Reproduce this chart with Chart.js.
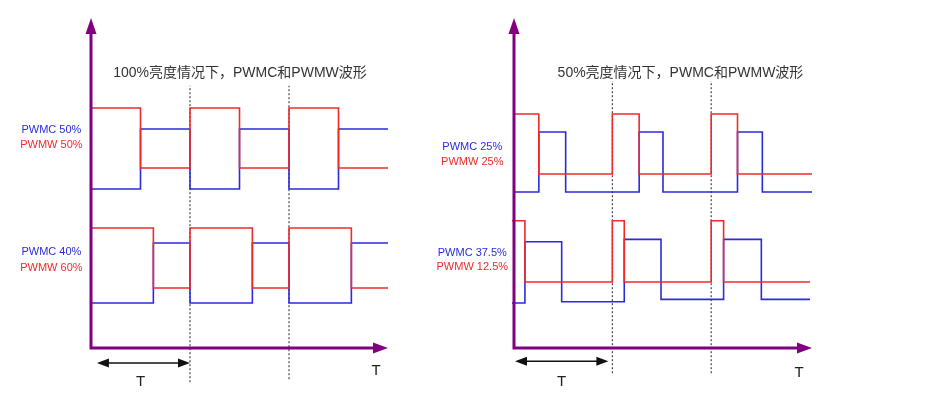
<!DOCTYPE html>
<html>
<head>
    <script src="https://cdn.jsdelivr.net/npm/chart.js@4.4.1/dist/chart.umd.min.js"></script>
    <style>
        body {
            margin: 0;
            background: #ffffff;
        }
        .wrap {
            position: relative;
            width: 934px;
            height: 417px;
            overflow: hidden;
        }
        canvas {
            position: absolute;
            top: 0;
        }
        #leftChart { left: 0; }
        #rightChart { left: 430px; }
    </style>
</head>
<body>
    <div class="wrap">
        <canvas id="leftChart" width="430" height="417"></canvas>
        <canvas id="rightChart" width="504" height="417"></canvas>
    </div>

    <script>
        // 时间单位: T (周期)；电平单位: 任意
        // 左图: 100%亮度
        const LEFT_TOP_EDGES = [0, 0.5, 1, 1.5, 2, 2.5, 3];
        const LEFT_TOP_PWMW = [4, 3, 4, 3, 4, 3, 3];
        const LEFT_TOP_PWMC = [2.65, 3.65, 2.65, 3.65, 2.65, 3.65, 3.65];
        const LEFT_BOT_EDGES = [0, 0.63, 1, 1.63, 2, 2.63, 3];
        const LEFT_BOT_PWMW = [2, 1, 2, 1, 2, 1, 1];
        const LEFT_BOT_PWMC = [0.75, 1.75, 0.75, 1.75, 0.75, 1.75, 1.75];
        const LEFT_PERIODS = [1, 2];
        const LEFT_LABELS = ['PWMC 50%', 'PWMW 50%', 'PWMC 40%', 'PWMW 60%'];

        // 右图: 50%亮度
        const RIGHT_TOP_PWMW_EDGES = [0, 0.25, 0.99, 1.26, 1.985, 2.25, 3];
        const RIGHT_TOP_PWMW = [3.9, 2.9, 3.9, 2.9, 3.9, 2.9, 2.9];
        const RIGHT_TOP_PWMC_EDGES = [0, 0.25, 0.52, 1.26, 1.5, 2.25, 2.5, 3];
        const RIGHT_TOP_PWMC = [2.6, 3.6, 2.6, 3.6, 2.6, 3.6, 2.6, 2.6];
        const RIGHT_BOT_PWMW_EDGES = [-0.02, 0.11, 0.99, 1.11, 1.985, 2.11, 2.98];
        const RIGHT_BOT_PWMW = [2.12, 1.1, 2.12, 1.1, 2.12, 1.1, 1.1];
        const RIGHT_BOT_PWMC_EDGES = [-0.02, 0.11, 0.48, 1.11, 1.48, 2.11, 2.49, 2.98];
        const RIGHT_BOT_PWMC = [0.75, 1.77, 0.77, 1.81, 0.81, 1.81, 0.81, 0.81];
        const RIGHT_PERIODS = [0.99, 1.985];
        const RIGHT_LABELS = ['PWMC 25%', 'PWMW 25%', 'PWMC 37.5%', 'PWMW 12.5%'];

        const RED = '#ee2b2b';
        const BLUE = '#2b2bdd';
        const PURPLE = '#800080';
        const FONT = '"Liberation Sans", Arial, "Noto Sans CJK SC", sans-serif';

        function pts(xs, ys) {
            return xs.map((x, i) => ({ x: x, y: ys[i] }));
        }

        function wave(xs, ys, color) {
            return {
                data: pts(xs, ys),
                borderColor: color,
                borderWidth: 1.6,
                stepped: 'before',
                pointRadius: 0,
                clip: false
            };
        }

        function periodLine(x, span) {
            return {
                data: [{ x: x, y: span[0] }, { x: x, y: span[1] }],
                borderColor: '#222',
                borderWidth: 1,
                borderDash: [2, 2],
                pointRadius: 0,
                clip: false
            };
        }

        function arrowHead(ctx, tipX, tipY, dx, dy, len, half) {
            // dx, dy: 单位方向
            const bx = tipX - dx * len, by = tipY - dy * len;
            ctx.beginPath();
            ctx.moveTo(tipX, tipY);
            ctx.lineTo(bx - dy * half, by + dx * half);
            ctx.lineTo(bx + dy * half, by - dx * half);
            ctx.closePath();
            ctx.fill();
        }

        // 画坐标轴、箭头、标题、文字
        const decor = {
            id: 'pwmDecor',
            afterDatasetsDraw(chart, args, o) {
                const ctx = chart.ctx;
                const X = v => chart.scales.x.getPixelForValue(v);
                const Y = v => chart.scales.y.getPixelForValue(v);
                const x0 = X(0), y0 = Y(0);
                const xEnd = X(chart.scales.x.max), yTop = Y(chart.scales.y.max);
                ctx.save();

                // 坐标轴
                ctx.strokeStyle = PURPLE;
                ctx.fillStyle = PURPLE;
                ctx.lineWidth = 3;
                ctx.beginPath();
                ctx.moveTo(x0, y0 + 1.5);
                ctx.lineTo(x0, yTop + 12);
                ctx.moveTo(x0 - 1.5, y0);
                ctx.lineTo(xEnd - 12, y0);
                ctx.stroke();
                arrowHead(ctx, x0, yTop, 0, -1, 16, 5.5);
                arrowHead(ctx, xEnd, y0, 1, 0, 15, 5.5);

                // 周期 T 箭头
                const ta = X(o.tArrow[0]), tb = X(o.tArrow[1]), ty = Y(o.tArrow[2]);
                ctx.strokeStyle = '#111';
                ctx.fillStyle = '#111';
                ctx.lineWidth = 1.5;
                ctx.beginPath();
                ctx.moveTo(ta + 8, ty);
                ctx.lineTo(tb - 8, ty);
                ctx.stroke();
                arrowHead(ctx, ta, ty, -1, 0, 12, 4.5);
                arrowHead(ctx, tb, ty, 1, 0, 12, 4.5);

                // 文字
                ctx.textAlign = 'center';
                ctx.textBaseline = 'middle';
                ctx.fillStyle = '#222';
                ctx.font = '15px ' + FONT;
                o.tLabels.forEach(t => ctx.fillText('T', X(t[0]), Y(t[1])));

                ctx.fillStyle = '#333';
                ctx.font = '14px ' + FONT;
                ctx.fillText(o.title, X(o.titlePos[0]), Y(o.titlePos[1]));

                ctx.font = '11px ' + FONT;
                o.labels.forEach((txt, i) => {
                    ctx.fillStyle = i % 2 === 0 ? BLUE : RED;
                    ctx.fillText(txt, X(o.labelX), Y(o.labelY[i]));
                });
                ctx.restore();
            }
        };

        function makePanel(id, datasets, padding, opts) {
            return new Chart(document.getElementById(id), {
                type: 'line',
                data: { datasets: datasets },
                options: {
                    responsive: false,
                    animation: false,
                    devicePixelRatio: 1,
                    layout: { padding: padding },
                    scales: {
                        x: { type: 'linear', min: 0, max: 3, display: false },
                        y: { type: 'linear', min: 0, max: 5.5, display: false }
                    },
                    plugins: {
                        legend: { display: false },
                        tooltip: { enabled: false },
                        pwmDecor: opts
                    }
                },
                plugins: [decor]
            });
        }

        makePanel('leftChart', [
            wave(LEFT_TOP_EDGES, LEFT_TOP_PWMW, RED),
            wave(LEFT_BOT_EDGES, LEFT_BOT_PWMW, RED),
            wave(LEFT_TOP_EDGES, LEFT_TOP_PWMC, BLUE),
            wave(LEFT_BOT_EDGES, LEFT_BOT_PWMC, BLUE),
            periodLine(LEFT_PERIODS[0], [-0.57, 4.37]),
            periodLine(LEFT_PERIODS[1], [-0.52, 4.37])
        ], { left: 91, right: 42, top: 18, bottom: 69 }, {
            title: '100%亮度情况下，PWMC和PWMW波形',
            titlePos: [1.505, 4.58],
            labels: LEFT_LABELS,
            labelX: -0.4,
            labelY: [3.63, 3.38, 1.6, 1.33],
            tArrow: [0.06, 1.0, -0.25],
            tLabels: [[0.5, -0.57], [2.88, -0.38]]
        });

        makePanel('rightChart', [
            wave(RIGHT_TOP_PWMW_EDGES, RIGHT_TOP_PWMW, RED),
            wave(RIGHT_BOT_PWMW_EDGES, RIGHT_BOT_PWMW, RED),
            wave(RIGHT_TOP_PWMC_EDGES, RIGHT_TOP_PWMC, BLUE),
            wave(RIGHT_BOT_PWMC_EDGES, RIGHT_BOT_PWMC, BLUE),
            periodLine(RIGHT_PERIODS[0], [-0.42, 4.45]),
            periodLine(RIGHT_PERIODS[1], [-0.42, 4.45])
        ], { left: 84, right: 122, top: 18, bottom: 69 }, {
            title: '50%亮度情况下，PWMC和PWMW波形',
            titlePos: [1.676, 4.58],
            labels: RIGHT_LABELS,
            labelX: -0.42,
            labelY: [3.35, 3.1, 1.58, 1.35],
            tArrow: [0.01, 0.95, -0.22],
            tLabels: [[0.48, -0.57], [2.87, -0.42]]
        });
    </script>
</body>
</html>
